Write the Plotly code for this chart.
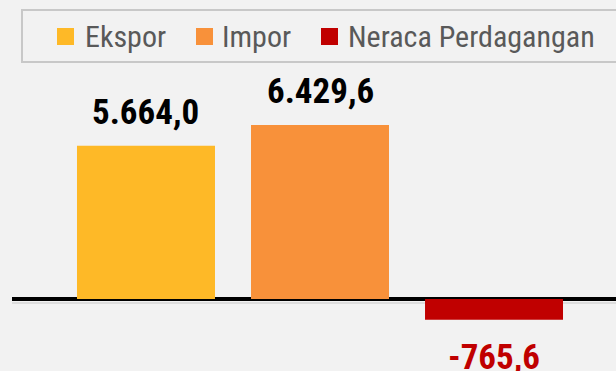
import plotly.graph_objects as go

# Trade figures; labels use Indonesian number formatting
categories = ["Ekspor", "Impor", "Neraca Perdagangan"]
values = [5664.0, 6429.6, -765.6]
colors = ["#FEB927", "#F8913A", "#C00000"]
label_colors = ["#000000", "#000000", "#C00000"]

W, H = 616, 371
ML = 12
PLOT_W = W - ML

def fmt_id(v):
    s = f"{v:,.1f}"
    return s.replace(",", "X").replace(".", ",").replace("X", ".")

def px_x(px):
    return (px - ML) / PLOT_W

def px_y(py):
    return 1 - py / H

FONT = "Roboto Condensed, Liberation Sans Narrow, Arial Narrow, sans-serif"

fig = go.Figure()
fig.add_trace(go.Bar(
    x=list(range(len(categories))),
    y=values,
    marker=dict(color=colors, line=dict(width=0)),
    width=0.793,
    showlegend=False,
    hoverinfo="skip",
))

annotations = []
for i, v in enumerate(values):
    annotations.append(dict(
        x=i, y=v, xref="x", yref="y",
        text=f"<b>{fmt_id(v)}</b>",
        showarrow=False,
        yanchor="bottom" if v >= 0 else "top",
        yshift=11 if v >= 0 else -15,
        font=dict(family=FONT, size=35, color=label_colors[i]),
    ))

# Legend: framed box with colour squares and series names
shapes = [dict(
    type="rect", xref="paper", yref="paper",
    x0=px_x(22), x1=px_x(630), y0=px_y(62), y1=px_y(10),
    line=dict(color="#C8C8C8", width=2), fillcolor="rgba(0,0,0,0)",
    layer="above",
)]
legend_sq = [57, 196, 321]
legend_tx = [83, 220, 346]
for name, col, sx, tx in zip(categories, colors, legend_sq, legend_tx):
    shapes.append(dict(
        type="rect", xref="paper", yref="paper",
        x0=px_x(sx), x1=px_x(sx + 17), y0=px_y(45), y1=px_y(28),
        line=dict(width=0), fillcolor=col,
    ))
    annotations.append(dict(
        x=px_x(tx), y=px_y(36), xref="paper", yref="paper",
        text=name, showarrow=False, xanchor="left", yanchor="middle",
        font=dict(family=FONT, size=30, color="#595959"),
    ))

scale = 174 / 6429.6  # pixels per unit

# thin grey rule just under the black zero line
shapes.append(dict(
    type="line", xref="paper", yref="y",
    x0=0, x1=1, y0=-4 / scale, y1=-4 / scale,
    line=dict(color="#C8C8C8", width=1), layer="below",
))

fig.update_layout(
    width=W, height=H,
    margin=dict(l=ML, r=0, t=0, b=0),
    paper_bgcolor="#F2F2F2",
    plot_bgcolor="#F2F2F2",
    xaxis=dict(range=[-0.770, 2.701], visible=False, fixedrange=True),
    yaxis=dict(
        range=[-(H - 299) / scale, 299 / scale],
        showgrid=False, showticklabels=False, ticks="",
        zeroline=True, zerolinecolor="#000000", zerolinewidth=3.5,
        fixedrange=True,
    ),
    annotations=annotations,
    shapes=shapes,
    showlegend=False,
)

fig.write_html("out.html")
